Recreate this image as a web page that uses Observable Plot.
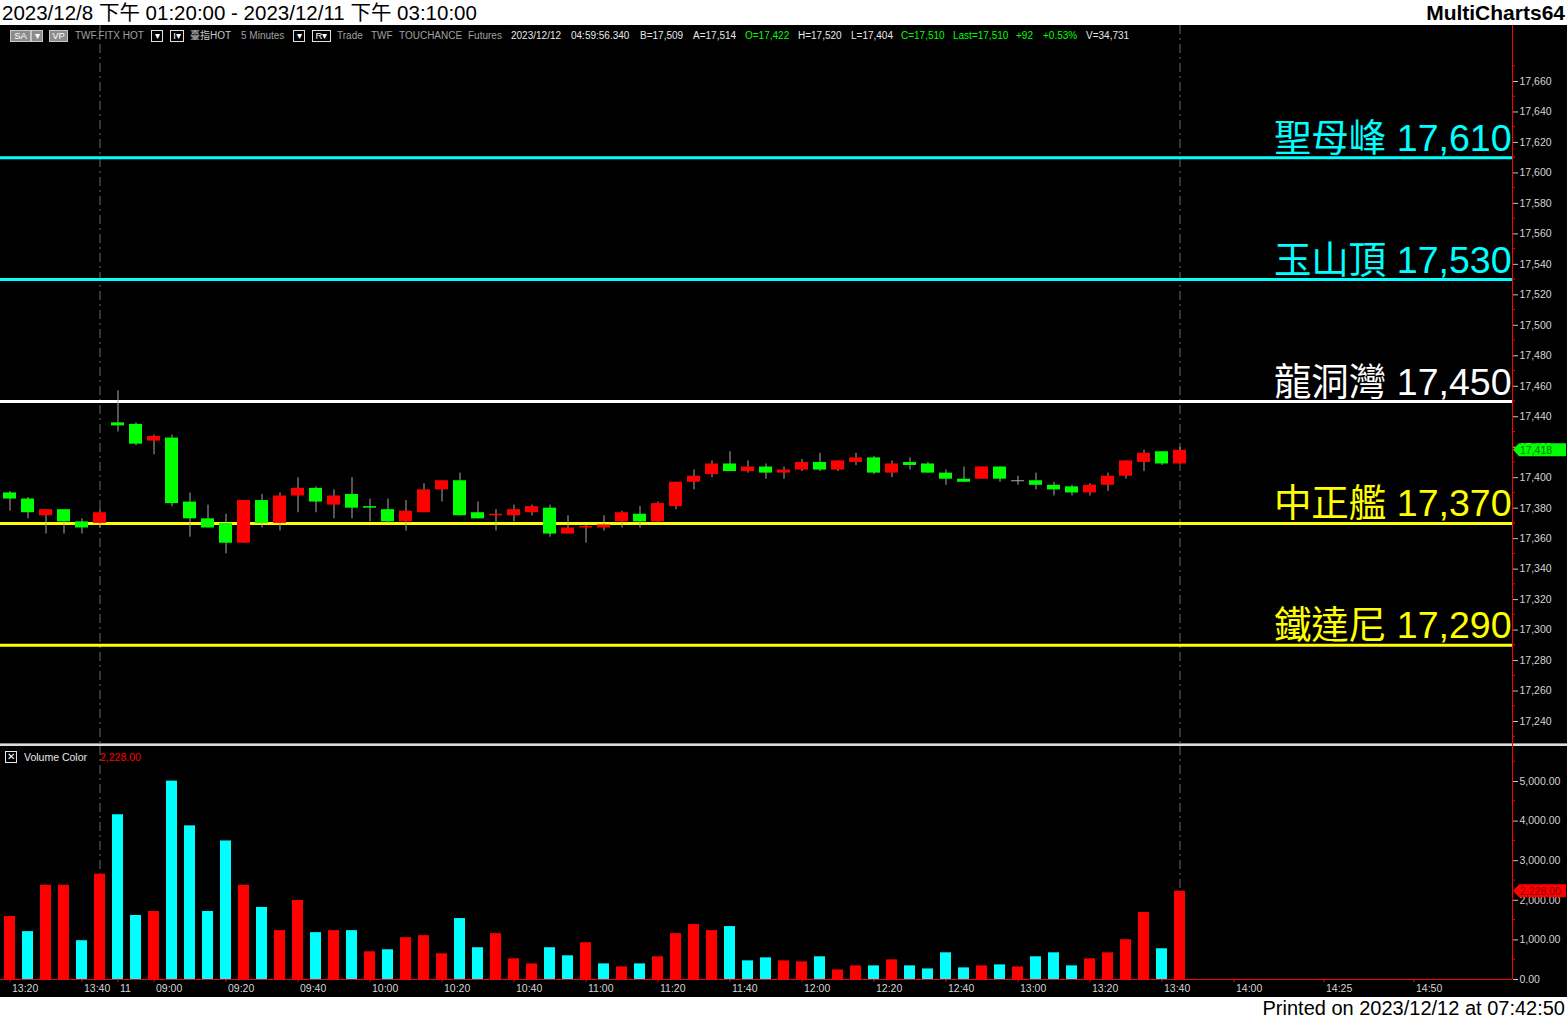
<!DOCTYPE html>
<html><head><meta charset="utf-8">
<script src="https://cdn.jsdelivr.net/npm/d3@7"></script>
<script src="https://cdn.jsdelivr.net/npm/@observablehq/plot@0.6"></script>
<style>
body{margin:0;background:#fff;width:1567px;height:1020px;overflow:hidden;position:relative;font-family:"Liberation Sans",Arial,"Noto Sans CJK TC",sans-serif;}
#title{position:absolute;left:2px;top:0;height:25px;line-height:25px;font-size:20.5px;color:#000;white-space:nowrap;}
#brand{position:absolute;right:2px;top:0;line-height:25px;font-size:21px;font-weight:bold;color:#000;}
#chart{position:absolute;left:0;top:25px;width:1567px;height:972px;background:#000;overflow:hidden;}
#price{position:absolute;left:0;top:0;}
#vol{position:absolute;left:0;top:721px;}
#sep{position:absolute;left:0;top:718px;width:1567px;height:3px;background:#dcdcdc;border-top:1px solid #8a8a8a;box-sizing:border-box;}
#raxis{position:absolute;left:1512px;top:0;width:1px;height:954px;background:#ff0000;}
#footer{position:absolute;right:2px;top:997px;line-height:23px;font-size:20px;color:#000;white-space:nowrap;}
.h{position:absolute;top:5px;font-size:10px;line-height:12px;white-space:nowrap;}
.bx{position:absolute;top:5px;height:12px;font-size:9.5px;line-height:10px;text-align:center;color:#fff;box-sizing:border-box;}
.g{color:#a0a0a0}.w{color:#e8e8e8}.gr{color:#00ff00}
</style></head>
<body>
<div id="title">2023/12/8 下午 01:20:00 - 2023/12/11 下午 03:10:00</div>
<div id="brand">MultiCharts64</div>
<div id="chart">
  <div id="price"></div>
  <div id="sep"></div>
  <div id="vol"></div>
  <div id="raxis"></div>
  <div class="bx" style="left:10px;width:21px;background:#8c8c8c;border:1px solid #c8c8c8;">SA</div>
  <div class="bx" style="left:31px;width:12px;background:#8c8c8c;border:1px solid #c8c8c8;">▾</div>
  <div class="bx" style="left:49px;width:19px;background:#8c8c8c;border:1px solid #c8c8c8;">VP</div>
  <span class="h g" style="left:75px">TWF.FITX HOT</span>
  <div class="bx" style="left:151px;width:12px;border:1px solid #e0e0e0;">▾</div>
  <div class="bx" style="left:170px;width:14px;border:1px solid #e0e0e0;">I▾</div>
  <span class="h w" style="left:190px;color:#c8c8c8">臺指HOT</span>
  <span class="h g" style="left:241px">5 Minutes</span>
  <div class="bx" style="left:293px;width:12px;border:1px solid #e0e0e0;">▾</div>
  <div class="bx" style="left:312px;width:19px;border:1px solid #e0e0e0;">R▾</div>
  <span class="h g" style="left:337px">Trade</span>
  <span class="h g" style="left:371px">TWF</span>
  <span class="h g" style="left:399px">TOUCHANCE</span>
  <span class="h g" style="left:468px">Futures</span>
  <span class="h w" style="left:511px">2023/12/12</span>
  <span class="h w" style="left:571px">04:59:56.340</span>
  <span class="h w" style="left:640px">B=17,509</span>
  <span class="h w" style="left:693px">A=17,514</span>
  <span class="h gr" style="left:745px">O=17,422</span>
  <span class="h w" style="left:798px">H=17,520</span>
  <span class="h w" style="left:851px">L=17,404</span>
  <span class="h gr" style="left:901px">C=17,510</span>
  <span class="h gr" style="left:953px">Last=17,510</span>
  <span class="h gr" style="left:1016px">+92</span>
  <span class="h gr" style="left:1043px">+0.53%</span>
  <span class="h w" style="left:1086px">V=34,731</span>
  <div class="bx" style="left:5px;top:726px;width:12px;height:12px;border:1px solid #e8e8e8;font-size:10px;line-height:10px;">✕</div>
  <span class="h w" style="left:24px;top:726px;font-size:10.5px">Volume Color</span>
  <span class="h" id="vlast" style="left:100px;top:726px;font-size:10.5px;color:#ff0000"></span>
</div>
<div id="footer">Printed on 2023/12/12 at 07:42:50</div>
<script>
// ---- data ----
const opens  = [17390,17386,17375,17379,17371,17370,17436,17435,17424,17426,17384,17373,17370,17357,17385,17370,17388,17393,17382,17389,17381,17379,17371,17377,17392,17398,17377,17375,17375,17377,17380,17363,17367,17367,17371,17376,17371,17381,17397,17402,17409,17404,17407,17403,17405,17410,17405,17410,17413,17403,17410,17409,17403,17399,17399,17407,17398,17398,17395,17394,17390,17395,17401,17410,17417,17409];
const highs  = [17391,17387,17379,17379,17373,17379,17457,17436,17428,17428,17390,17382,17376,17385,17389,17390,17400,17394,17392,17400,17386,17386,17385,17396,17398,17403,17384,17379,17382,17382,17382,17375,17369,17375,17378,17381,17384,17397,17405,17411,17417,17411,17409,17407,17412,17416,17411,17416,17414,17411,17413,17410,17405,17407,17407,17407,17401,17403,17397,17395,17396,17403,17411,17418,17417,17420];
const lows   = [17378,17373,17363,17363,17363,17367,17430,17421,17415,17381,17361,17367,17350,17357,17367,17365,17377,17377,17373,17373,17371,17370,17365,17377,17384,17375,17373,17365,17371,17375,17361,17363,17357,17365,17367,17367,17370,17379,17392,17400,17404,17403,17399,17399,17404,17404,17404,17408,17402,17400,17405,17403,17395,17397,17399,17397,17395,17392,17388,17388,17388,17391,17399,17404,17408,17409];
const closes = [17386,17377,17379,17371,17367,17377,17434,17422,17427,17383,17373,17367,17357,17385,17370,17388,17393,17384,17388,17380,17380,17371,17378,17392,17398,17375,17373,17376,17379,17381,17363,17367,17368,17369,17377,17371,17383,17397,17401,17409,17404,17407,17403,17405,17410,17405,17411,17413,17403,17409,17408,17403,17399,17397,17407,17399,17398,17395,17392,17390,17395,17401,17411,17416,17409,17418];
const volumes = [1590,1209,2379,2379,980,2659,4160,1616,1718,5010,3880,1718,3499,2379,1819,1234,1997,1183,1234,1234,700,751,1056,1107,649,1539,802,1158,522,394,802,598,929,394,318,394,573,1158,1387,1234,1336,471,547,471,445,573,242,344,344,496,344,267,674,293,344,369,318,573,674,344,522,674,1005,1692,776,2228];
const volColors = ["R","C","R","R","C","R","C","C","R","C","C","C","C","R","C","R","R","C","R","C","R","C","R","R","R","C","C","R","R","R","C","C","R","C","R","C","R","R","R","R","C","C","C","R","R","C","R","R","C","R","C","C","C","C","R","C","R","C","C","C","R","R","R","R","C","R"];
const tickIndex  = [0,4,6,8,12,16,20,24,28,32,36,40,44,48,52,56,60,64,68,73,78];
const tickLabels = ["13:20","13:40","11","09:00","09:20","09:40","10:00","10:20","10:40","11:00","11:20","11:40","12:00","12:20","12:40","13:00","13:20","13:40","14:00","14:25","14:50"];
const sessionBreaks = [5, 65];
const levelNames  = ["聖母峰","玉山頂","龍洞灣","中正艦","鐵達尼"];
const levelValues = [17610,17530,17450,17370,17290];
const levelColors = ["#00ffff","#00ffff","#ffffff","#ffff00","#ffff00"];
const priceTicks = [17240,17260,17280,17300,17320,17340,17360,17380,17400,17420,17440,17460,17480,17500,17520,17540,17560,17580,17600,17620,17640,17660];
const priceMinor = [17230,17250,17270,17290,17310,17330,17350,17370,17390,17410,17430,17450,17470,17490,17510,17530,17550,17570,17590,17610,17630,17650,17670];
const volTicks = [0,1000,2000,3000,4000,5000];
const volMinor = [500,1500,2500,3500,4500,5500];

// ---- tables ----
const candles = opens.map((o,i)=>({i, open:o, high:highs[i], low:lows[i], close:closes[i]}));
const vols = volumes.map((v,i)=>({i, v, c: volColors[i]==="R" ? "#ff0000" : "#00ffff"}));
const levels = levelNames.map((n,k)=>({name:n, value:levelValues[k], color:levelColors[k]}));
const tickMap = new Map(tickIndex.map((t,k)=>[t, tickLabels[k]]));

const W = 1567, MR = 55, AX = W - MR;
const xDomain = [-0.5278, 83.4722];
const FONT = '"Liberation Sans", Arial, "Noto Sans CJK TC", sans-serif';
const baseStyle = {background:"transparent", color:"#d4d4d4", fontFamily:FONT, fontSize:"10.5px", overflow:"visible"};
const bodyColor = d => d.close > d.open ? "#ff0000" : "#00ff00";

function linScale(plot, name) {
  const s = plot.scale(name);
  return d3.scaleLinear(s.domain, s.range);
}
function styleYAxis(svg) {
  d3.select(svg).selectAll('[aria-label^="y-axis"] line, [aria-label^="y-axis"] path').attr("stroke", "#c8c8c8");
  d3.select(svg).selectAll('[aria-label^="y-axis"] text').attr("fill", "#d4d4d4");
}
function minorTicks(svg, sc, vals) {
  const g = d3.select(svg).append("g");
  for (const v of vals) {
    const y = sc(v);
    g.append("line").attr("x1", AX).attr("x2", AX + 3).attr("y1", y).attr("y2", y).attr("stroke", "#ff0000");
  }
}
function marker(svg, y, fill, textFill, label) {
  const g = d3.select(svg).append("g");
  g.append("path").attr("d", `M${AX+1},${y}L${AX+7},${y-6.5}H${W-1}V${y+6.5}H${AX+7}Z`).attr("fill", fill);
  g.append("text").attr("x", AX + 8).attr("y", y).attr("dy", "0.36em").attr("fill", textFill)
    .attr("text-anchor", "start").attr("font-size", "10.5px").attr("font-family", FONT).text(label);
}

const price = Plot.plot({
  width: W, height: 718, marginLeft: 0, marginRight: MR, marginTop: 0, marginBottom: 0,
  x: {domain: xDomain, axis: null},
  y: {domain: [17240, 17660], range: [696, 56], axis: "right", ticks: priceTicks, tickFormat: d3.format(","), tickSize: 5, tickPadding: 2, label: null},
  color: {type: "identity"},
  style: baseStyle,
  marks: [
    Plot.ruleX(sessionBreaks, {x: d=>d, stroke:"#6a6a6a", strokeDasharray:"9,4,2,4"}),
    Plot.ruleY(levels, {y:"value", stroke:"color", strokeWidth:3}),
    Plot.ruleX(candles, {x:"i", y1:"low", y2:"high", stroke:"#a8a8a8"}),
    Plot.rect(candles.filter(d=>d.open!==d.close), {x1:d=>d.i-0.5, x2:d=>d.i+0.5, insetLeft:2.5, insetRight:2.5, y1:"open", y2:"close", fill: bodyColor}),
    Plot.ruleY(candles.filter(d=>d.open===d.close), {y:"open", x1:d=>d.i-0.5, x2:d=>d.i+0.5, insetLeft:2.5, insetRight:2.5, stroke:"#a8a8a8"}),
    Plot.text(levels, {y:"value", text:d=>`${d.name} ${d3.format(",")(d.value)}`, frameAnchor:"right", textAnchor:"end", lineAnchor:"bottom", dy:-7, dx:-1, fill:"color", fontSize:37.5, fontFamily:FONT})
  ]
});
document.getElementById("price").appendChild(price);
styleYAxis(price);
{
  const ys = linScale(price, "y");
  minorTicks(price, ys, priceMinor);
  const last = closes[closes.length-1];
  marker(price, ys(last), "#00ff00", "#007a00", d3.format(",")(last));
}

const vol = Plot.plot({
  width: W, height: 251, marginLeft: 0, marginRight: MR, marginTop: 0, marginBottom: 18,
  x: {domain: xDomain, axis: "bottom", ticks: tickIndex, tickFormat: d=>tickMap.get(d), tickSize: 3, tickPadding: 2, label: null},
  y: {domain: [0, 5000], range: [233, 35], axis: "right", ticks: volTicks, tickFormat: d3.format(",.2f"), tickSize: 5, tickPadding: 2, label: null},
  color: {type: "identity"},
  style: baseStyle,
  marks: [
    Plot.ruleX(sessionBreaks, {x: d=>d, stroke:"#6a6a6a", strokeDasharray:"9,4,2,4"}),
    Plot.rect(vols, {x1:d=>d.i-0.5, x2:d=>d.i+0.5, insetLeft:3.5, insetRight:3.5, y1:0, y2:"v", fill:"c"}),
    Plot.ruleY([0], {stroke:"#ff0000"})
  ]
});
document.getElementById("vol").appendChild(vol);
styleYAxis(vol);
d3.select(vol).selectAll('[aria-label^="x-axis"] line, [aria-label^="x-axis"] path').attr("stroke", "#ff0000");
d3.select(vol).selectAll('[aria-label^="x-axis"] text').attr("text-anchor", "start").attr("dx", 2).attr("fill", "#d4d4d4");
{
  const ys = linScale(vol, "y");
  minorTicks(vol, ys, volMinor);
  const last = volumes[volumes.length-1];
  marker(vol, ys(last), "#ff0000", "#7a0000", d3.format(",.2f")(last));
  document.getElementById("vlast").textContent = d3.format(",.2f")(last);
}
</script>
</body></html>
